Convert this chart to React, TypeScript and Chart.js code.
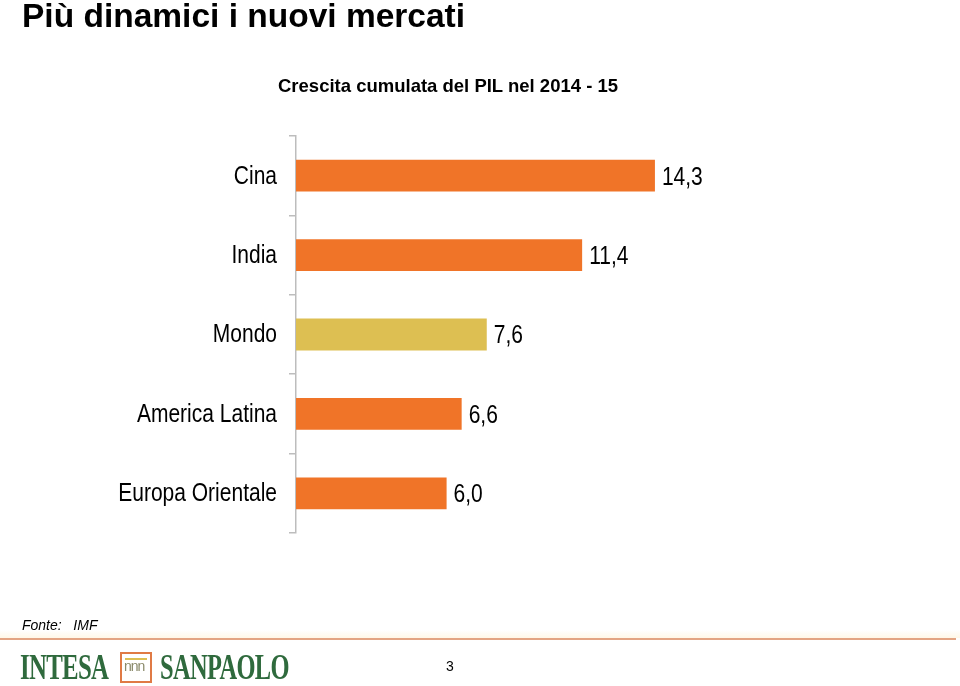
import React, { useEffect, useRef } from "react";
import { Chart, registerables } from "chart.js";

Chart.register(...registerables);

const categories = ["Cina", "India", "Mondo", "America Latina", "Europa Orientale"];
const values = [14.3, 11.4, 7.6, 6.6, 6.0];
const barColors = ["#F07428", "#F07428", "#DDBF52", "#F07428", "#F07428"];

const LABEL_FONT = "'Liberation Sans', Arial, sans-serif";
const SQUEEZE = 0.84;

// Category labels and value labels are drawn in a narrow (horizontally squeezed) face,
// positioned from the chart's own scales and bar elements.
const narrowLabels = {
  id: "narrowLabels",
  afterDatasetsDraw(chart: any) {
    const ctx = chart.ctx;
    const yScale = chart.scales.y;
    const meta = chart.getDatasetMeta(0);
    ctx.save();
    ctx.fillStyle = "#000";
    ctx.font = `25px ${LABEL_FONT}`;
    ctx.textBaseline = "middle";
    const labels = chart.data.labels as string[];
    labels.forEach((lab, i) => {
      const y = yScale.getPixelForTick(i);
      ctx.save();
      ctx.translate(yScale.right - 19, y + 1);
      ctx.scale(SQUEEZE, 1);
      ctx.textAlign = "right";
      ctx.fillText(lab, 0, 0);
      ctx.restore();
    });
    meta.data.forEach((bar: any, i: number) => {
      const txt = values[i].toFixed(1).replace(".", ",");
      ctx.save();
      ctx.translate(bar.x + 7, bar.y + 2);
      ctx.scale(SQUEEZE, 1);
      ctx.textAlign = "left";
      ctx.fillText(txt, 0, 0);
      ctx.restore();
    });
    ctx.restore();
  },
};

function BarChart() {
  const ref = useRef<HTMLCanvasElement | null>(null);
  useEffect(() => {
    if (!ref.current) return;
    const chart = new Chart(ref.current, {
      type: "bar",
      data: {
        labels: categories,
        datasets: [
          {
            data: values,
            backgroundColor: barColors,
            borderWidth: 0,
            categoryPercentage: 1,
            barPercentage: 0.4,
          },
        ],
      },
      plugins: [narrowLabels],
      options: {
        indexAxis: "y",
        animation: false,
        responsive: false,
        maintainAspectRatio: false,
        layout: { padding: { top: 136, bottom: 153, left: 0, right: 162 } },
        plugins: {
          legend: { display: false },
          tooltip: { enabled: false },
          title: { display: false },
        },
        scales: {
          x: {
            display: false,
            min: 0,
            max: 20,
          },
          y: {
            afterFit(scale: any) {
              scale.width = 296;
            },
            grid: {
              offset: true,
              drawOnChartArea: false,
              drawTicks: true,
              tickLength: 7,
              color: "#BDBDBD",
              lineWidth: 1.5,
            },
            border: { display: true, color: "#BDBDBD", width: 1.5 },
            ticks: {
              display: false,
            },
          },
        },
      },
    } as any);
    return () => chart.destroy();
  }, []);
  return (
    <canvas
      ref={ref}
      width={960}
      height={686}
      style={{ position: "absolute", left: 0, top: 0, width: 960, height: 686 }}
    />
  );
}

export default function App() {
  const sans = "'Liberation Sans', Arial, Helvetica, sans-serif";
  const serif = "'Liberation Serif', 'Times New Roman', serif";
  return (
    <div
      style={{
        position: "fixed",
        left: 0,
        top: 0,
        width: 960,
        height: 686,
        background: "#fff",
        overflow: "hidden",
        fontFamily: sans,
      }}
    >
      <BarChart />
      <div
        style={{
          position: "absolute",
          left: 22,
          top: -1,
          fontSize: 33.5,
          lineHeight: "33.5px",
          fontWeight: "bold",
          color: "#000",
          whiteSpace: "nowrap",
        }}
      >
        Più dinamici i nuovi mercati
      </div>
      <div
        style={{
          position: "absolute",
          left: 278,
          top: 77,
          fontSize: 18.5,
          lineHeight: "18.5px",
          fontWeight: "bold",
          color: "#000",
          whiteSpace: "nowrap",
        }}
      >
        Crescita cumulata del PIL nel 2014 - 15
      </div>
      <div
        style={{
          position: "absolute",
          left: 22,
          top: 618,
          fontSize: 14,
          lineHeight: "14px",
          fontStyle: "italic",
          color: "#000",
          whiteSpace: "pre",
        }}
      >
        {"Fonte:   IMF"}
      </div>
      <div
        style={{
          position: "absolute",
          left: 0,
          top: 630,
          width: 960,
          height: 8,
          background: "linear-gradient(to bottom, rgba(255,250,235,0), #FFF7E6)",
        }}
      />
      <div
        style={{
          position: "absolute",
          left: 0,
          top: 638,
          width: 956,
          height: 2,
          background: "#E3A482",
        }}
      />
      <div
        style={{
          position: "absolute",
          left: 20,
          top: 649,
          fontFamily: serif,
          fontWeight: "bold",
          fontSize: 36,
          lineHeight: "36px",
          color: "#2F6A3D",
          whiteSpace: "nowrap",
          transform: "scaleX(0.69)",
          transformOrigin: "left top",
          letterSpacing: -1,
        }}
      >
        INTESA
      </div>
      <div
        style={{
          position: "absolute",
          left: 120,
          top: 652,
          width: 28,
          height: 27,
          border: "2px solid #E07A45",
          boxSizing: "content-box",
          background: "#fff",
        }}
      >
        <div
          style={{
            position: "absolute",
            left: 3,
            top: 4,
            width: 22,
            height: 2,
            background: "#DDBF52",
          }}
        />
        <div
          style={{
            position: "absolute",
            left: 2,
            top: 5,
            fontFamily: sans,
            fontSize: 14,
            lineHeight: "14px",
            color: "#8A8A6A",
            letterSpacing: -1,
            whiteSpace: "nowrap",
          }}
        >
          nnn
        </div>
      </div>
      <div
        style={{
          position: "absolute",
          left: 160,
          top: 649,
          fontFamily: serif,
          fontWeight: "bold",
          fontSize: 36,
          lineHeight: "36px",
          color: "#2F6A3D",
          whiteSpace: "nowrap",
          transform: "scaleX(0.68)",
          transformOrigin: "left top",
          letterSpacing: -1,
        }}
      >
        SANPAOLO
      </div>
      <div
        style={{
          position: "absolute",
          left: 446,
          top: 659,
          fontSize: 14,
          lineHeight: "14px",
          color: "#000",
        }}
      >
        3
      </div>
    </div>
  );
}
